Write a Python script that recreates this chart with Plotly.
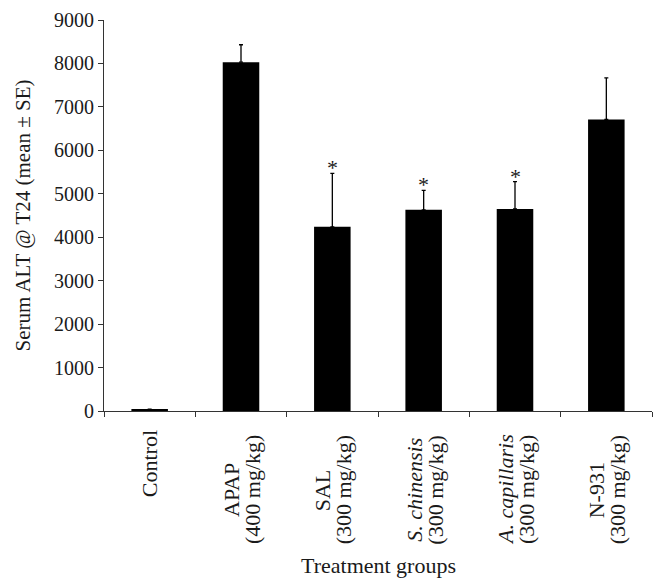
import plotly.graph_objects as go

groups = ["Control", "APAP", "SAL", "<i>S. chinensis</i>", "<i>A. capillaris</i>", "N-931"]
doses = ["", "(400 mg/kg)", "(300 mg/kg)", "(300 mg/kg)", "(300 mg/kg)", "(300 mg/kg)"]
means = [25, 8030, 4240, 4630, 4650, 6710]
se = [15, 400, 1230, 450, 630, 960]
significant = [False, False, True, True, True, False]
y_ticks = [0, 1000, 2000, 3000, 4000, 5000, 6000, 7000, 8000, 9000]

FONT = "Liberation Serif"
AX = "#333333"
TXT = "#1a1a1a"

cats = [f"c{i}" for i in range(len(groups))]

fig = go.Figure()
fig.add_trace(go.Bar(
    x=cats, y=means, width=0.4,
    marker=dict(color="black", line=dict(width=0)),
    error_y=dict(type="data", array=se, arrayminus=[0] * len(se), symmetric=False,
                 color="black", thickness=1.3, width=2),
    showlegend=False,
))

annotations = []
for c, g, d in zip(cats, groups, doses):
    if not d:
        annotations.append(dict(
            x=c, xref="x", y=0, yref="paper", yanchor="top", xanchor="center",
            yshift=-17, text=g, textangle=-90, showarrow=False,
            font=dict(family=FONT, size=22, color=TXT),
        ))
    else:
        annotations.append(dict(
            x=c, xref="x", y=0, yref="paper", yanchor="middle", xanchor="center",
            yshift=-79, xshift=-10, text=g, textangle=-90, showarrow=False,
            font=dict(family=FONT, size=22, color=TXT),
        ))
        annotations.append(dict(
            x=c, xref="x", y=0, yref="paper", yanchor="middle", xanchor="center",
            yshift=-79, xshift=11, text=d, textangle=-90, showarrow=False,
            font=dict(family=FONT, size=22, color=TXT),
        ))
for c, m, s, sig in zip(cats, means, se, significant):
    if sig:
        annotations.append(dict(
            x=c, xref="x", y=m + s, yref="y", yanchor="bottom", xanchor="center",
            yshift=-9, text="*", showarrow=False,
            font=dict(family=FONT, size=22, color=TXT),
        ))

annotations.append(dict(
    x=0.5, xref="paper", y=0, yref="paper", yanchor="top", yshift=-140,
    text="Treatment groups", showarrow=False,
    font=dict(family=FONT, size=22, color=TXT),
))

fig.update_layout(
    width=666, height=580,
    margin=dict(l=104, r=14, t=20, b=169),
    plot_bgcolor="white", paper_bgcolor="white",
    bargap=0.6,
    font=dict(family=FONT, size=20, color=TXT),
    annotations=annotations,
)
fig.update_xaxes(
    type="category", categoryorder="array", categoryarray=cats,
    tickson="boundaries", ticks="outside", ticklen=5, tickcolor=AX, tickwidth=1,
    showticklabels=False, showline=True, linecolor=AX, linewidth=1,
    showgrid=False, zeroline=False, range=[-0.5, 5.5],
)
fig.update_yaxes(
    range=[0, 9000], tickvals=y_ticks, ticktext=[str(v) for v in y_ticks],
    ticks="outside", ticklen=5, tickcolor=AX, tickwidth=1,
    showline=True, linecolor=AX, linewidth=1, showgrid=False, zeroline=False,
    tickfont=dict(family=FONT, size=20, color=TXT),
    automargin=False,
    title=dict(text="Serum ALT @ T24 (mean ± SE)", standoff=17,
               font=dict(family=FONT, size=21, color=TXT)),
)

fig.write_html("out.html", config={"displayModeBar": False},
               post_script="document.body.style.margin='0';document.body.style.overflow='hidden';")
